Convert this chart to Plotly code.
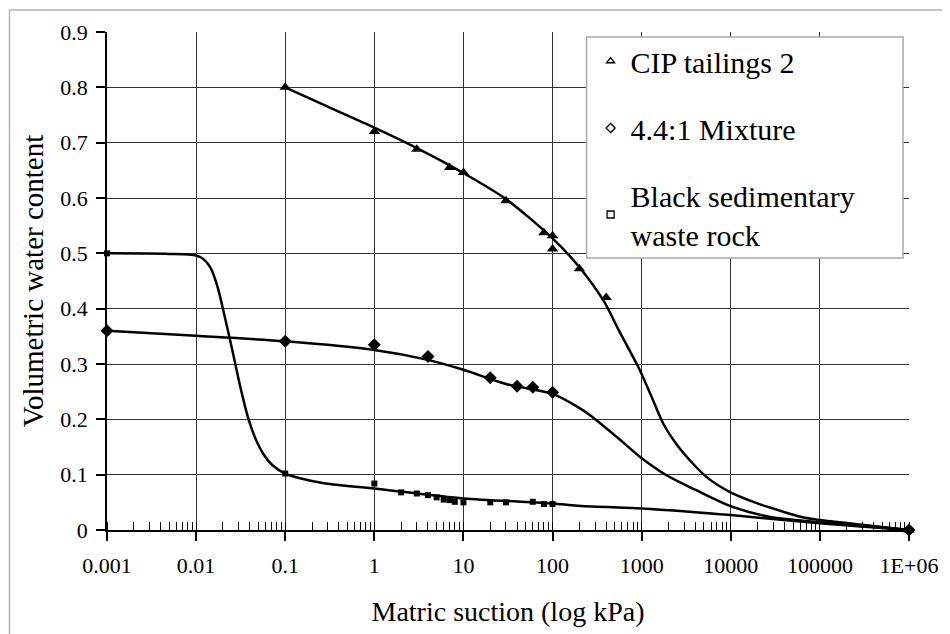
import plotly.graph_objects as go

# ---------------- data ----------------
x_tick_vals = [0.001, 0.01, 0.1, 1, 10, 100, 1000, 10000, 100000, 1000000]
x_tick_text = ["0.001", "0.01", "0.1", "1", "10", "100", "1000", "10000", "100000", "1E+06"]

cip_x = [0.1, 1, 3, 7, 10, 30, 80, 100, 100, 200, 400, 1000000]
cip_y = [0.80, 0.72, 0.688, 0.655, 0.646, 0.595, 0.537, 0.532, 0.508, 0.472, 0.42, 0.0]

mix_x = [0.001, 0.1, 1, 4, 20, 40, 60, 100, 1000000]
mix_y = [0.36, 0.341, 0.335, 0.3135, 0.275, 0.26, 0.258, 0.249, 0.0]

blk_x = [0.001, 0.1, 1, 2, 3, 4, 5, 6, 7, 8, 10, 20, 30, 60, 80, 100, 1000000]
blk_y = [0.50, 0.102, 0.084, 0.068, 0.066, 0.063, 0.059, 0.055, 0.054, 0.051, 0.050,
         0.050, 0.050, 0.051, 0.047, 0.047, 0.0]

# fitted curves
cip_fit_x = [0.1, 0.3, 1, 3, 10, 30, 100, 200, 375, 562, 920, 1260, 1750, 2510, 3470,
             5320, 9680, 19200, 27000, 63700, 100000, 316000, 1000000]
cip_fit_y = [0.80, 0.765, 0.727, 0.69, 0.645, 0.598, 0.527, 0.475, 0.414, 0.359, 0.294,
             0.245, 0.192, 0.153, 0.126, 0.096, 0.069, 0.049, 0.041, 0.023, 0.018,
             0.009, 0.0]

mix_fit_x = [0.001, 0.01, 0.1, 1, 4, 10, 30, 100, 189, 266, 527, 960, 1900, 4100,
             10000, 27000, 100000, 1000000]
mix_fit_y = [0.36, 0.351, 0.341, 0.3255, 0.3075, 0.2895, 0.264, 0.246, 0.223, 0.207,
             0.168, 0.132, 0.099, 0.072, 0.043, 0.024, 0.014, 0.0]

blk_fit_x = [0.001, 0.005, 0.01, 0.012, 0.0145, 0.0175, 0.021, 0.0255, 0.031, 0.038,
             0.047, 0.058, 0.072, 0.1, 0.143, 0.284, 1, 10, 100, 190, 1000, 10000,
             100000, 1000000]
blk_fit_y = [0.50, 0.499, 0.496, 0.490, 0.474, 0.438, 0.385, 0.325, 0.262, 0.205,
             0.163, 0.135, 0.117, 0.102, 0.094, 0.084, 0.075, 0.057, 0.048, 0.044,
             0.039, 0.027, 0.012, 0.0]

legend_names = ["CIP tailings 2", "4.4:1 Mixture", "Black sedimentary<br>waste rock"]

# ---------------- figure ----------------
FONT = "'Liberation Serif', 'Times New Roman', Times, serif"
OFF = 8                      # page offset of the plot div
W, H = 942, 626
L, R, T, B = 99, 37, 22, 104
pw, ph = W - L - R, H - T - B


def px_x(page_x):
    return (page_x - OFF - L) / pw


def px_y(page_y):
    return (H - B - (page_y - OFF)) / ph


fig = go.Figure()

line_style = dict(color="black", width=2.5, shape="spline", smoothing=0.8)
for fx, fy in [(cip_fit_x, cip_fit_y), (mix_fit_x, mix_fit_y), (blk_fit_x, blk_fit_y)]:
    fig.add_trace(go.Scatter(x=fx, y=fy, mode="lines", line=line_style,
                             showlegend=False, hoverinfo="skip"))

marker_sets = [
    (cip_x, cip_y, "triangle-up", 10),
    (mix_x, mix_y, "diamond", 10),
    (blk_x, blk_y, "square", 6),
]
for mx, my, sym, sz in marker_sets:
    fig.add_trace(go.Scatter(x=mx, y=my, mode="markers", cliponaxis=False,
                             marker=dict(symbol=sym, size=sz, color="black"),
                             showlegend=False))

# legend-only entries (open symbols as in the reference legend)
for i, (name, sym) in enumerate(zip(legend_names,
                                    ["triangle-up-open", "diamond-open", "square-open"])):
    fig.add_trace(go.Scatter(x=[None], y=[None], mode="markers", name=name,
                             legendgroup=f"g{i}",
                             marker=dict(symbol=sym, size=7, color="black",
                                         line=dict(width=1.3, color="black"))))

grid_col = "#333333"
fig.update_xaxes(
    type="log", range=[-3, 6],
    tickmode="array", tickvals=x_tick_vals, ticktext=x_tick_text,
    ticks="outside", ticklen=9, tickwidth=1.5, tickcolor="black",
    ticklabelstandoff=6,
    showline=True, linecolor="black", linewidth=1.5,
    showgrid=True, gridcolor=grid_col, gridwidth=1.4,
    zeroline=False,
    tickfont=dict(family=FONT, size=22, color="black"),
    title=dict(text="Matric suction (log kPa)",
               font=dict(family=FONT, size=28, color="black"), standoff=24),
    minor=dict(ticks="inside", ticklen=8, tickwidth=1.2, tickcolor="black",
               dtick="D1", showgrid=False),
)
fig.update_yaxes(
    range=[0, 0.9], dtick=0.1, tick0=0,
    ticks="outside", ticklen=9, tickwidth=1.5, tickcolor="black",
    ticklabelstandoff=4,
    showline=True, linecolor="black", linewidth=1.5,
    showgrid=True, gridcolor=grid_col, gridwidth=1.4,
    zeroline=False,
    tickfont=dict(family=FONT, size=22, color="black"),
    title=dict(text="Volumetric water content",
               font=dict(family=FONT, size=29, color="black"), standoff=8),
)

# legend box and outer frame
fig.add_shape(type="rect", xref="paper", yref="paper",
              x0=px_x(589), x1=px_x(907), y0=px_y(257), y1=px_y(35),
              fillcolor="white", line=dict(color="#a8a8a8", width=1.5), layer="above")
fig.add_shape(type="rect", xref="paper", yref="paper",
              x0=px_x(9), x1=px_x(975), y0=px_y(660), y1=px_y(8),
              fillcolor="rgba(0,0,0,0)", line=dict(color="#b4b4b4", width=1.5),
              layer="below")

fig.update_layout(
    width=W, height=H,
    margin=dict(l=L, r=R, t=T, b=B),
    paper_bgcolor="white", plot_bgcolor="white",
    font=dict(family=FONT, color="black"),
    showlegend=True,
    legend=dict(x=px_x(593), y=px_y(33), xanchor="left", yanchor="top",
                bgcolor="rgba(0,0,0,0)", borderwidth=0,
                font=dict(family=FONT, size=30, color="black"),
                tracegroupgap=25, traceorder="grouped", itemsizing="trace"),
)

fig.write_html("out.html")
